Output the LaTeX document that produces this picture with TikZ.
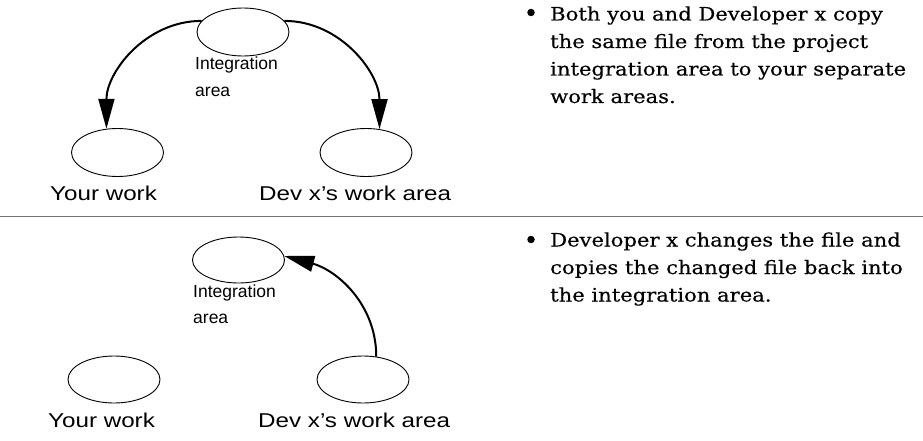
\documentclass[tikz,border=0pt]{standalone}
\usepackage{fontspec}
\usetikzlibrary{shapes.geometric,arrows.meta}
\newfontfamily\labelsans{Liberation Sans}[FakeStretch=1.21]
\newfontfamily\areasans{Liberation Sans}
\newfontfamily\bodyserif{DejaVu Serif}[FakeStretch=1.14,FakeBold=0.35]

\begin{document}
\begin{tikzpicture}[x=1pt,y=1pt,
  area/.style={ellipse, draw, line width=0.9pt, minimum width=92pt, minimum height=48pt, inner sep=0pt},
  caption/.style={anchor=base west, inner sep=0pt, font=\labelsans\fontsize{20}{24}\selectfont},
  small/.style={anchor=base west, inner sep=0pt, font=\areasans\fontsize{17.5}{20}\selectfont},
  bodyline/.style={anchor=base west, inner sep=0pt, font=\bodyserif\fontsize{18.5}{22}\selectfont},
  flow/.style={line width=2pt, -{Triangle[length=30pt,width=16pt]}},
  rule/.style={line width=1.5pt, draw=black!55},
  dot/.style={circle, fill=black, inner sep=0pt, minimum size=7.5pt}]

\useasboundingbox (0,0) rectangle (923,-441);

% ---- first step: both copies come out of the integration area ----
\node[area] (int) at (243,-32) {};
\node[area] (yw) at (117.5,-152.5) {};
\node[area] (dv) at (366,-152.5) {};
\node[small] (intA) at (195,-70) {Integration};
\node[small] (intB) at (195,-97) {area};
\node[caption] (ywlab) at (50,-200) {Your work};
\node[caption] (dvlab) at (259,-200) {Dev x’s work area};

\draw[flow] (int.165) to[out=180,in=90] (yw.115);
\draw[flow] (int.15) to[out=0,in=90] (dv.60);

\node[dot] (b1) at (531,-12.5) {};
\node[bodyline] (t1) at (550,-20.5) {Both you and Developer x copy};
\node[bodyline] (t2) at (550,-48) {the same file from the project};
\node[bodyline] (t3) at (550,-75.5) {integration area to your separate};
\node[bodyline] (t4) at (550,-103) {work areas.};

% ---- separator ----
\coordinate (sepL) at (0,-216.7);
\coordinate (sepR) at (923,-216.7);
\draw[rule] (sepL) -- (sepR);

% ---- second step: the changed file goes back ----
\node[area, minimum height=46pt] (int2) at (238.5,-260) {};
\node[area, minimum height=47pt] (yw2) at (114,-379.5) {};
\node[area, minimum height=47pt] (dv2) at (363,-379.5) {};
\node[small] (intC) at (193,-297.5) {Integration};
\node[small] (intD) at (193,-323.5) {area};
\node[caption] (ywlab2) at (48,-427) {Your work};
\node[caption] (dvlab2) at (258,-427) {Dev x’s work area};

\draw[flow] (dv2.60) to[out=90,in=-15] (int2.5);

\node[dot] (b2) at (531,-239.5) {};
\node[bodyline] (u1) at (550,-246.5) {Developer x changes the file and};
\node[bodyline] (u2) at (550,-274) {copies the changed file back into};
\node[bodyline] (u3) at (550,-301.5) {the integration area.};
\end{tikzpicture}
\end{document}
